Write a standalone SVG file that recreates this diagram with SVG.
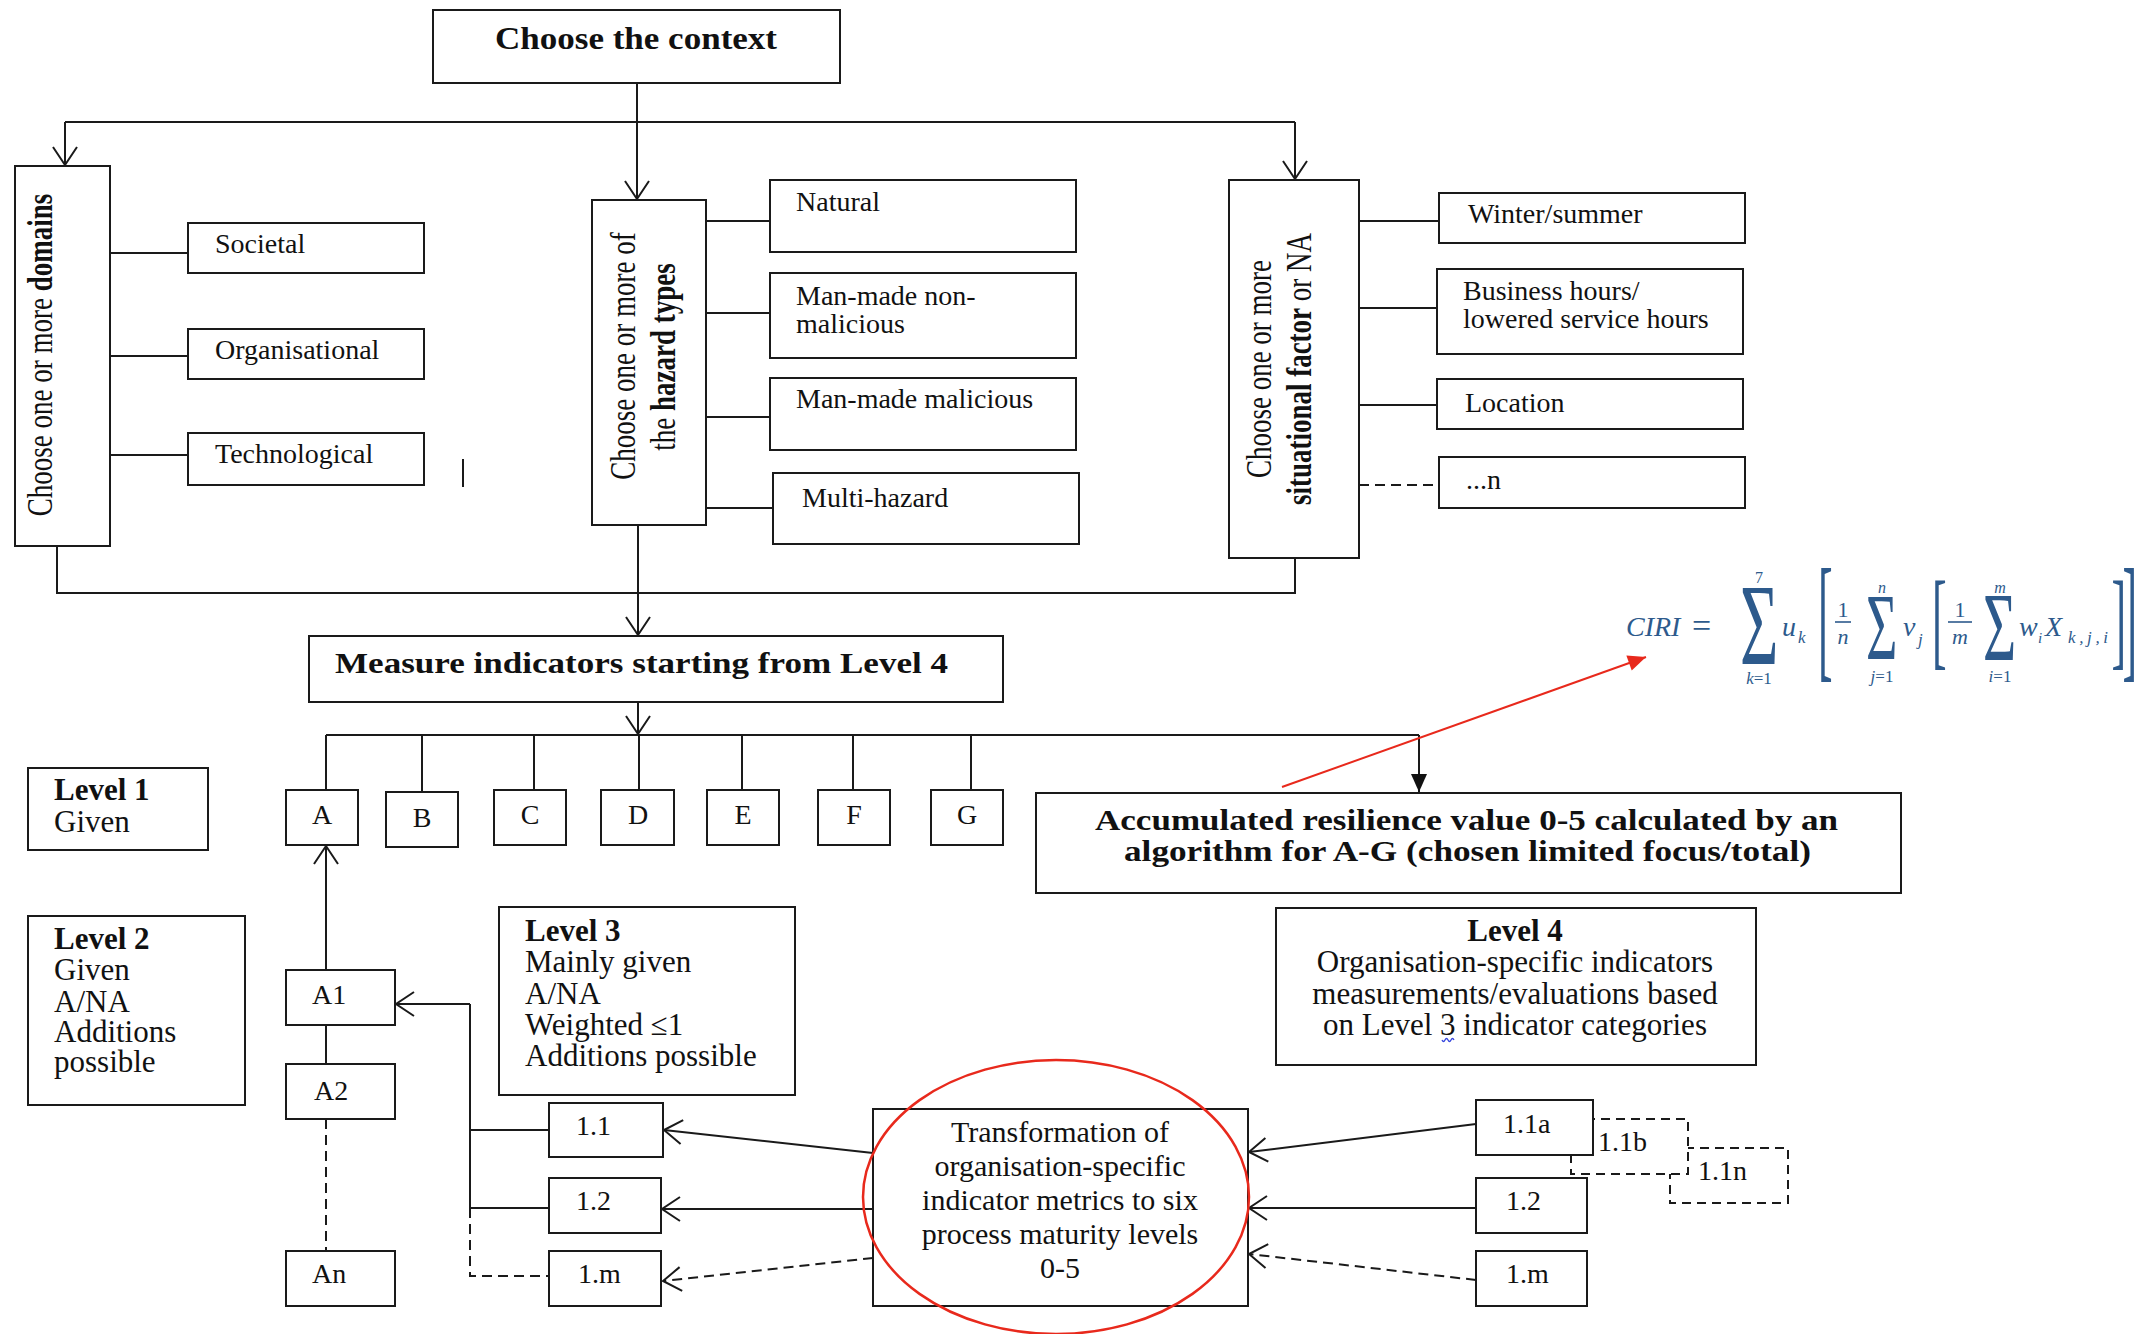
<svg xmlns="http://www.w3.org/2000/svg" width="2149" height="1334" viewBox="0 0 2149 1334">
  <style>
    .bx{fill:#fff;stroke:#1a1a1a;stroke-width:2}
    .dbx{fill:#fff;stroke:#1a1a1a;stroke-width:2;stroke-dasharray:9 6}
    .ln{fill:none;stroke:#1a1a1a;stroke-width:2}
    .dash{stroke-dasharray:10 6}
    .t{font-family:"Liberation Serif","Times New Roman",serif;fill:#111}
    .b{font-weight:bold}
    .mid{text-anchor:middle}
    .s27{font-size:27px}
    .s28{font-size:28px}
    .s30{font-size:30px}
    .s31{font-size:31px}
    .m{font-family:"Liberation Serif","Times New Roman",serif;fill:#2d5a8c}
    .i{font-style:italic}
    .red{fill:none;stroke:#e8291c;stroke-width:2.5}
  </style>
  <defs>
    <marker id="open" viewBox="-20 -14 22 28" refX="0" refY="0" markerWidth="22" markerHeight="28" markerUnits="userSpaceOnUse" orient="auto" overflow="visible">
      <path d="M-18,-12 L0,0 L-18,12" fill="none" stroke="#1a1a1a" stroke-width="2"/>
    </marker>
    <marker id="solid" viewBox="-18 -9 20 18" refX="0" refY="0" markerWidth="20" markerHeight="18" markerUnits="userSpaceOnUse" orient="auto" overflow="visible">
      <path d="M-18,-8 L0,0 L-18,8 Z" fill="#111"/>
    </marker>
    <marker id="redhead" viewBox="-18 -9 20 18" refX="0" refY="0" markerWidth="20" markerHeight="18" markerUnits="userSpaceOnUse" orient="auto" overflow="visible">
      <path d="M-18,-8 L0,0 L-18,8 Z" fill="#e8291c"/>
    </marker>
  </defs>
  <rect width="2149" height="1334" fill="#fff"/>

  <!-- connectors -->
  <g id="connectors">
    <!-- context fan-out -->
    <path class="ln" d="M637,83 V122 M65,122 H1295"/>
    <path class="ln" d="M65,122 V165" marker-end="url(#open)"/>
    <path class="ln" d="M637,122 V199" marker-end="url(#open)"/>
    <path class="ln" d="M1295,122 V179" marker-end="url(#open)"/>
    <!-- domains branches -->
    <path class="ln" d="M110,253 H188 M110,356 H188 M110,455 H188"/>
    <!-- hazard branches -->
    <path class="ln" d="M706,221 H770 M706,313 H770 M706,417 H770 M706,508 H773"/>
    <!-- situational branches -->
    <path class="ln" d="M1359,221 H1439 M1359,308 H1437 M1359,405 H1437"/>
    <path class="ln dash" d="M1359,485 H1439"/>
    <!-- stray tick -->
    <path class="ln" d="M463,459 V487"/>
    <!-- merge line below the three selectors -->
    <path class="ln" d="M57,546 V593 H1295 V558"/>
    <path class="ln" d="M638,525 V635" marker-end="url(#open)"/>
    <path class="ln" d="M638,702 V734" marker-end="url(#open)"/>
    <!-- level 1 bus -->
    <path class="ln" d="M326,735 H1419 M326,735 V790 M422,735 V792 M534,735 V790 M639,735 V790 M742,735 V790 M853,735 V790 M971,735 V790"/>
    <path class="ln" d="M1419,735 V792" marker-end="url(#solid)"/>
    <!-- level 2 chain -->
    <path class="ln" d="M326,970 V846" marker-end="url(#open)"/>
    <path class="ln" d="M326,1025 V1064"/>
    <path class="ln dash" d="M326,1119 V1251"/>
    <!-- level 3 bus -->
    <path class="ln" d="M470,1004 H396" marker-end="url(#open)"/>
    <path class="ln" d="M470,1004 V1208 M470,1130 H549 M470,1208 H549"/>
    <path class="ln dash" d="M470,1208 V1276 H549"/>
    <!-- transformation to level 3 -->
    <path class="ln" d="M873,1153 L664,1130" marker-end="url(#open)"/>
    <path class="ln" d="M873,1209 H662" marker-end="url(#open)"/>
    <path class="ln dash" d="M873,1258 L663,1281" marker-end="url(#open)"/>
    <!-- level 4 to transformation -->
    <path class="ln" d="M1476,1124 L1249,1152" marker-end="url(#open)"/>
    <path class="ln" d="M1476,1208 H1249" marker-end="url(#open)"/>
    <path class="ln dash" d="M1476,1280 L1249,1254" marker-end="url(#open)"/>
    <!-- annotation arrow to the formula -->
    <path d="M1282,787 L1646,657" fill="none" stroke="#e8291c" stroke-width="2" marker-end="url(#redhead)"/>
  </g>

  <g id="context">
    <rect class="bx" x="433" y="10" width="407" height="73"/>
    <text class="t b" x="495" y="49" font-size="31" textLength="282" lengthAdjust="spacingAndGlyphs">Choose the context</text>
  </g>

  <g id="domains">
    <rect class="bx" x="15" y="166" width="95" height="380"/>
    <text class="t s27 mid" transform="translate(52,355) rotate(-90) scale(1,1.35)">Choose one or more <tspan class="b">domains</tspan></text>
  </g>
  <g id="societal"><rect class="bx" x="188" y="223" width="236" height="50"/><text class="t s28" x="215" y="253">Societal</text></g>
  <g id="organisational"><rect class="bx" x="188" y="329" width="236" height="50"/><text class="t s28" x="215" y="359">Organisational</text></g>
  <g id="technological"><rect class="bx" x="188" y="433" width="236" height="52"/><text class="t s28" x="215" y="463">Technological</text></g>

  <g id="hazards">
    <rect class="bx" x="592" y="200" width="114" height="325"/>
    <text class="t s27 mid" transform="translate(635,356) rotate(-90) scale(1,1.35)">Choose one or more of</text>
    <text class="t s27 mid" transform="translate(675,357) rotate(-90) scale(1,1.35)">the <tspan class="b">hazard types</tspan></text>
  </g>
  <g id="natural"><rect class="bx" x="770" y="180" width="306" height="72"/><text class="t s28" x="796" y="211">Natural</text></g>
  <g id="non-malicious"><rect class="bx" x="770" y="273" width="306" height="85"/><text class="t s28" x="796" y="305">Man-made non-</text><text class="t s28" x="796" y="333">malicious</text></g>
  <g id="malicious"><rect class="bx" x="770" y="378" width="306" height="72"/><text class="t s28" x="796" y="408">Man-made malicious</text></g>
  <g id="multi-hazard"><rect class="bx" x="773" y="473" width="306" height="71"/><text class="t s28" x="802" y="507">Multi-hazard</text></g>

  <g id="situational">
    <rect class="bx" x="1229" y="180" width="130" height="378"/>
    <text class="t s27 mid" transform="translate(1271,369) rotate(-90) scale(1,1.35)">Choose one or more</text>
    <text class="t s27 mid" transform="translate(1311,369) rotate(-90) scale(1,1.35)"><tspan class="b">situational factor</tspan> or NA</text>
  </g>
  <g id="winter-summer"><rect class="bx" x="1439" y="193" width="306" height="50"/><text class="t s28" x="1468" y="223">Winter/summer</text></g>
  <g id="business-hours"><rect class="bx" x="1437" y="269" width="306" height="85"/><text class="t s28" x="1463" y="300">Business hours/</text><text class="t s28" x="1463" y="328">lowered service hours</text></g>
  <g id="location"><rect class="bx" x="1437" y="379" width="306" height="50"/><text class="t s28" x="1465" y="412">Location</text></g>
  <g id="more-factors"><rect class="bx" x="1439" y="457" width="306" height="51"/><text class="t s28" x="1466" y="489">...n</text></g>

  <g id="measure">
    <rect class="bx" x="309" y="636" width="694" height="66"/>
    <text class="t b" x="335" y="673" font-size="30" textLength="613" lengthAdjust="spacingAndGlyphs">Measure indicators starting from Level 4</text>
  </g>

  <g id="level1">
    <rect class="bx" x="28" y="768" width="180" height="82"/>
    <text class="t s31" x="54" y="800"><tspan class="b">Level 1</tspan><tspan x="54" y="832">Given</tspan></text>
  </g>
  <g id="level2">
    <rect class="bx" x="28" y="916" width="217" height="189"/>
    <text class="t s31" x="54" y="949"><tspan class="b">Level 2</tspan><tspan x="54" y="980">Given</tspan><tspan x="54" y="1012">A/NA</tspan><tspan x="54" y="1042">Additions</tspan><tspan x="54" y="1072">possible</tspan></text>
  </g>
  <g id="level3">
    <rect class="bx" x="499" y="907" width="296" height="188"/>
    <text class="t s31" x="525" y="941"><tspan class="b">Level 3</tspan><tspan x="525" y="972">Mainly given</tspan><tspan x="525" y="1004">A/NA</tspan><tspan x="525" y="1035">Weighted ≤1</tspan><tspan x="525" y="1066">Additions possible</tspan></text>
  </g>
  <g id="level4">
    <rect class="bx" x="1276" y="908" width="480" height="157"/>
    <text class="t s31 mid" x="1515" y="941"><tspan class="b">Level 4</tspan><tspan x="1515" y="972">Organisation-specific indicators</tspan><tspan x="1515" y="1004">measurements/evaluations based</tspan><tspan x="1515" y="1035">on Level 3 indicator categories</tspan></text>
    <path d="M1442,1040 q1.5,3 3,0 t3,0 t3,0 t3,0" fill="none" stroke="#3344dd" stroke-width="1.3"/>
  </g>

  <g id="node-A"><rect class="bx" x="286" y="790" width="72" height="55"/><text class="t s28 mid" x="322" y="824">A</text></g>
  <g id="node-B"><rect class="bx" x="386" y="792" width="72" height="55"/><text class="t s28 mid" x="422" y="827">B</text></g>
  <g id="node-C"><rect class="bx" x="494" y="790" width="72" height="55"/><text class="t s28 mid" x="530" y="824">C</text></g>
  <g id="node-D"><rect class="bx" x="601" y="790" width="73" height="55"/><text class="t s28 mid" x="638" y="824">D</text></g>
  <g id="node-E"><rect class="bx" x="707" y="790" width="72" height="55"/><text class="t s28 mid" x="743" y="824">E</text></g>
  <g id="node-F"><rect class="bx" x="818" y="790" width="72" height="55"/><text class="t s28 mid" x="854" y="824">F</text></g>
  <g id="node-G"><rect class="bx" x="931" y="790" width="72" height="55"/><text class="t s28 mid" x="967" y="824">G</text></g>

  <g id="accumulated">
    <rect class="bx" x="1036" y="793" width="865" height="100"/>
    <text class="t b" x="1095" y="830" font-size="30" textLength="743" lengthAdjust="spacingAndGlyphs">Accumulated resilience value 0-5 calculated by an</text>
    <text class="t b" x="1124" y="861" font-size="30" textLength="687" lengthAdjust="spacingAndGlyphs">algorithm for A-G (chosen limited focus/total)</text>
  </g>

  <g id="node-A1"><rect class="bx" x="286" y="970" width="109" height="55"/><text class="t s28" x="312" y="1004">A1</text></g>
  <g id="node-A2"><rect class="bx" x="286" y="1064" width="109" height="55"/><text class="t s28" x="314" y="1100">A2</text></g>
  <g id="node-An"><rect class="bx" x="286" y="1251" width="109" height="55"/><text class="t s28" x="312" y="1283">An</text></g>

  <g id="node-1-1"><rect class="bx" x="549" y="1103" width="114" height="54"/><text class="t s28" x="576" y="1135">1.1</text></g>
  <g id="node-1-2"><rect class="bx" x="549" y="1178" width="112" height="55"/><text class="t s28" x="576" y="1210">1.2</text></g>
  <g id="node-1-m"><rect class="bx" x="549" y="1251" width="112" height="55"/><text class="t s28" x="578" y="1283">1.m</text></g>

  <g id="transformation">
    <rect class="bx" x="873" y="1109" width="375" height="197"/>
    <text class="t s30 mid" x="1060" y="1142">Transformation of<tspan x="1060" y="1176">organisation-specific</tspan><tspan x="1060" y="1210">indicator metrics to six</tspan><tspan x="1060" y="1244">process maturity levels</tspan><tspan x="1060" y="1278">0-5</tspan></text>
  </g>

  <g id="node-1-1n"><rect class="dbx" x="1670" y="1148" width="118" height="55"/><text class="t s28" x="1698" y="1180">1.1n</text></g>
  <g id="node-1-1b"><rect class="dbx" x="1571" y="1119" width="117" height="55"/><text class="t s28" x="1598" y="1151">1.1b</text></g>
  <g id="node-1-1a"><rect class="bx" x="1476" y="1100" width="117" height="55"/><text class="t s28" x="1503" y="1133">1.1a</text></g>
  <g id="node-r-1-2"><rect class="bx" x="1476" y="1178" width="111" height="55"/><text class="t s28" x="1506" y="1210">1.2</text></g>
  <g id="node-r-1-m"><rect class="bx" x="1476" y="1251" width="111" height="55"/><text class="t s28" x="1506" y="1283">1.m</text></g>

  <!-- highlight ring -->
  <ellipse class="red" cx="1056" cy="1197" rx="193" ry="137"/>

  <!-- CIRI formula -->
  <g id="formula">
    <text class="m i" x="1626" y="636" font-size="28">CIRI</text>
    <text class="m" x="1692" y="637" font-size="34">=</text>
    <text class="m" transform="translate(1740,664) scale(1,1.76)" font-size="66">Σ</text>
    <text class="m mid" x="1759" y="583" font-size="16">7</text>
    <text class="m mid" x="1759" y="684" font-size="17"><tspan class="i">k</tspan>=1</text>
    <text class="m i" x="1782" y="636" font-size="28">u</text>
    <text class="m i" x="1798" y="643" font-size="17">k</text>
    <text class="m" transform="translate(1818,663.6) scale(1,3.11)" font-size="44">[</text>
    <text class="m mid" x="1843" y="617" font-size="22">1</text>
    <line x1="1835" y1="622" x2="1851" y2="622" stroke="#2d5a8c" stroke-width="1.6"/>
    <text class="m i mid" x="1843" y="644" font-size="22">n</text>
    <text class="m" transform="translate(1866,660) scale(1,1.76)" font-size="54">Σ</text>
    <text class="m i mid" x="1882" y="593" font-size="16">n</text>
    <text class="m mid" x="1882" y="682" font-size="17"><tspan class="i">j</tspan>=1</text>
    <text class="m i" x="1903" y="636" font-size="28">v</text>
    <text class="m i" x="1918" y="645" font-size="17">j</text>
    <text class="m" transform="translate(1932,656) scale(1,2.44)" font-size="44">[</text>
    <text class="m mid" x="1960" y="617" font-size="22">1</text>
    <line x1="1948" y1="622" x2="1972" y2="622" stroke="#2d5a8c" stroke-width="1.6"/>
    <text class="m i mid" x="1960" y="644" font-size="22">m</text>
    <text class="m" transform="translate(1983,660) scale(1,1.7)" font-size="57">Σ</text>
    <text class="m i mid" x="2000" y="593" font-size="16">m</text>
    <text class="m mid" x="2000" y="682" font-size="17"><tspan class="i">i</tspan>=1</text>
    <text class="m i" x="2019" y="636" font-size="28">w</text>
    <text class="m i" x="2038" y="643" font-size="15">i</text>
    <text class="m i" x="2045" y="636" font-size="28">X</text>
    <text class="m i" x="2068" y="643" font-size="17" textLength="40">k,j,i</text>
    <text class="m" transform="translate(2111.5,656) scale(1,2.44)" font-size="44">]</text>
    <text class="m" transform="translate(2122.5,663.6) scale(1,3.11)" font-size="44">]</text>
  </g>
</svg>
